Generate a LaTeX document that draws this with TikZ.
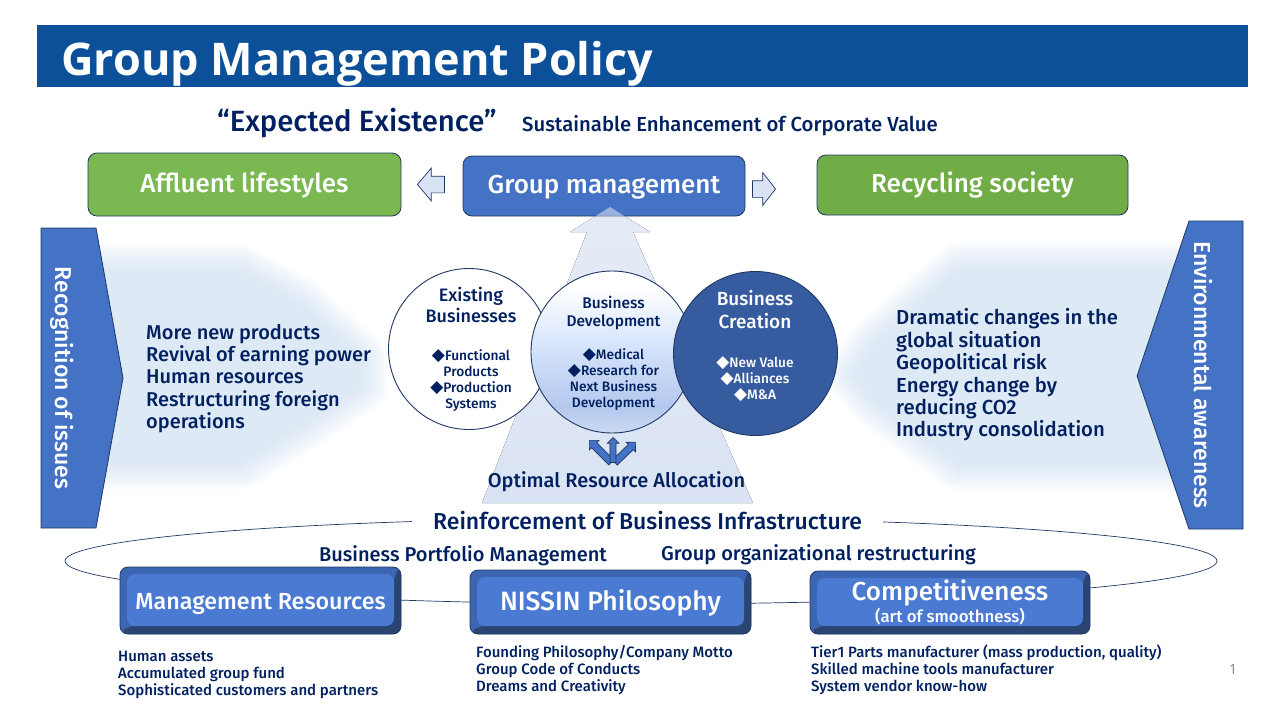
\documentclass[tikz,border=0pt]{standalone}
\usepackage{fontspec}
\setmainfont{Open Sans}
\newfontfamily\medfont{Fira Sans}[UprightFont=* Medium]
\newfontfamily\symfont{DejaVu Sans}
\usetikzlibrary{shapes.arrows}

\definecolor{navy}{HTML}{002060}
\definecolor{titleblue}{HTML}{0B5099}
\definecolor{boxblue}{HTML}{4472C4}
\definecolor{edgeblue}{HTML}{1F3864}
\definecolor{paleblue}{HTML}{DAE3F3}
\definecolor{glowblue}{HTML}{C6DAEF}
\definecolor{leafgreen}{HTML}{7AB852}
\definecolor{mossgreen}{HTML}{70AD47}
\definecolor{deepblue}{HTML}{365C9F}
\definecolor{bevelface}{HTML}{4A7AD2}
\definecolor{bevellight}{HTML}{3D66B2}
\definecolor{beveldark}{HTML}{2B4572}
\definecolor{devfoot}{HTML}{CCDAF3}
\definecolor{devlow}{HTML}{B4C8EE}
\definecolor{devmid}{HTML}{D6E4FB}

\pgfdeclareverticalshading{devshade}{100bp}{
  color(0bp)=(devfoot); color(25bp)=(devfoot); color(33bp)=(devlow);
  color(52bp)=(devmid); color(70bp)=(white); color(100bp)=(white)}

\newcommand{\dmd}{\smash{\fontsize{17}{16}\selectfont\symfont\char"25C6}}
\newcommand{\fs}[2]{\fontsize{#1}{#2}\selectfont\medfont}
\newcommand{\nudge}[2]{\raisebox{-#1pt}[\height][\depth]{#2}}

\tikzset{
  rolebox/.style={draw=edgeblue, rounded corners=9pt, line width=0.8pt, text=white, inner sep=0pt},
  sidearrow/.style={draw=edgeblue, fill=boxblue, line width=0.8pt},
  hollowarrow/.style={single arrow, draw=edgeblue, fill=paleblue, line width=0.7pt, inner xsep=0pt, inner ysep=8pt,
    minimum width=32pt, single arrow head extend=8pt, anchor=tip},
  armarrow/.style={single arrow, draw=edgeblue, fill=boxblue, line width=0.7pt, inner xsep=0pt, inner ysep=3.2pt,
    minimum width=13pt, single arrow head extend=3.2pt, anchor=tip},
  sphere/.style={circle, draw=edgeblue, line width=0.9pt, inner sep=0pt},
  heading/.style={text=navy, align=center, inner sep=0pt},
  itemlist/.style={text=navy, align=left, anchor=west, inner sep=0pt},
  bevelbox/.style={draw=edgeblue, rounded corners=8pt, line width=0.8pt, fill=bevellight, text=white, inner sep=0pt, align=center,
    path picture={
      \fill[beveldark] (path picture bounding box.south west)
        -- ([xshift=7pt,yshift=8pt]path picture bounding box.south west)
        -- ([xshift=-7pt,yshift=8pt]path picture bounding box.south east)
        -- ([xshift=-7pt,yshift=-7pt]path picture bounding box.north east)
        -- (path picture bounding box.north east)
        -- (path picture bounding box.south east) -- cycle;
      \fill[bevelface] ([xshift=7pt,yshift=8pt]path picture bounding box.south west)
        rectangle ([xshift=-7pt,yshift=-7pt]path picture bounding box.north east);
    }},
}

\begin{document}
\begin{tikzpicture}[x=1pt,y=-1pt]
  \useasboundingbox (0,0) rectangle (1280,720);

  % Title
  \node[fill=titleblue, minimum width=1211pt, minimum height=62pt, inner sep=0pt] (titlebar) at (642.5,56) {};
  \node[anchor=west, text=white, inner sep=0pt, font=\fontsize{45}{50}\selectfont\bfseries] (titletext) at (61,64) {Group Management Policy};
  \node[heading, anchor=west, font=\fs{29.3}{34}] (expected) at (217,123.5) {“Expected Existence”};
  \node[heading, anchor=west, font=\fs{20.3}{24}] (sustain) at (522,126) {Sustainable Enhancement of Corporate Value};

  % Big arrow
  \fill[top color=paleblue!70, bottom color=paleblue]
    (610,207) -- (650,232) -- (633,232) -- (753,503) -- (482,503) -- (587,232) -- (570,232) -- cycle;

  % Top row
  \node[rolebox, fill=leafgreen, minimum width=313pt, minimum height=63pt, font=\fs{26}{30}] (affluent) at (244.5,184.5) {Affluent lifestyles};
  \node[rolebox, fill=mossgreen, minimum width=311pt, minimum height=60pt, font=\fs{26}{30}] (recycling) at (972.5,185) {Recycling society};
  \node[rolebox, fill=boxblue, minimum width=282pt, minimum height=60pt, font=\fs{26}{30}] (groupmgmt) at (604,186) {\nudge{1}{Group management}};
  \fill[white, fill opacity=0.45] (610,207) -- (625,216.5) -- (595,216.5) -- cycle;
  \node[hollowarrow, shape border rotate=180, minimum height=27pt, single arrow tip angle=100] (arrowleft) at (417,184.5) {};
  \node[hollowarrow, minimum height=23pt, single arrow tip angle=104] (arrowright) at (776,189) {};

  % Soft glow behind the side texts
  \foreach \w in {56,52,...,0} {
    \begin{scope}[transparency group, opacity=0.06]
      \draw[glowblue, fill=glowblue, line join=round, line width=\w pt]
        (70,272) -- (240,272) -- (300,305) -- (360,360) -- (360,385) -- (300,425) -- (240,462) -- (70,462) -- cycle;
      \draw[glowblue, fill=glowblue, line join=round, line width=\w pt]
        (1215,270) -- (960,270) -- (875,345) -- (855,375) -- (875,400) -- (960,463) -- (1215,463) -- cycle;
    \end{scope}
  }

  % Side arrows
  \draw[sidearrow] (41,228) -- (96,228) -- (123,378) -- (96,528) -- (41,528) -- cycle;
  \draw[sidearrow] (1243,221) -- (1189,221) -- (1137,376) -- (1189,529) -- (1243,529) -- cycle;
  \node[text=white, rotate=-90, inner sep=0pt, font=\fs{23}{26}] (recognition) at (62,378) {Recognition of issues};
  \node[text=white, rotate=-90, inner sep=0pt, font=\fs{23}{26}] (environment) at (1203,375) {Environmental awareness};
  \node[itemlist, font=\fs{20}{22.4}] (issues) at (146,378.5) {More new products\\Revival of earning power\\Human resources\\Restructuring foreign\\operations};
  \node[itemlist, font=\fs{20.3}{22.4}] (awareness) at (896,375) {Dramatic changes in the\\global situation\\Geopolitical risk\\Energy change by\\reducing CO2\\Industry consolidation};

  % Circles
  \node[sphere, fill=white, minimum size=161pt] (existing) at (469,349) {};
  \node[sphere, shading=devshade, minimum size=162pt] (development) at (612,352) {};
  \node[sphere, fill=deepblue, minimum size=164pt] (creation) at (755.5,353.5) {};
  \node[heading, font=\fs{18}{21}] (existingname) at (471,304.5) {Existing\\Businesses};
  \node[heading, font=\fs{13.7}{16}] (existingitems) at (471,380.5) {\dmd Functional\\Products\\\dmd Production\\Systems};
  \node[heading, font=\fs{15.5}{18}] (developmentname) at (613.5,313) {Business\\Development};
  \node[heading, font=\fs{13.7}{16}] (developmentitems) at (613.5,380) {\dmd Medical\\\dmd Research for\\Next Business\\Development};
  \node[heading, text=white, font=\fs{19}{23}] (creationname) at (755,309.5) {Business\\Creation};
  \node[heading, text=white, font=\fs{13.7}{16}] (creationitems) at (755,378) {\dmd New Value\\\dmd Alliances\\\dmd M\&A};

  % Three small arrows
  \node[armarrow, rotate=135, minimum height=31pt] (armleft) at (589,440) {};
  \node[armarrow, rotate=44, minimum height=29pt] (armright) at (636,442) {};
  \node[armarrow, rotate=90, minimum height=25pt, minimum width=11pt, inner ysep=2.7pt, single arrow head extend=2.8pt] (armup) at (613,437) {};
  \node[heading, font=\fs{20}{24}] (optimal) at (616.5,481.5) {Optimal Resource Allocation};

  % Infrastructure
  \draw[edgeblue, line width=0.7pt] (641,561) ellipse [x radius=576, y radius=43];
  \node[heading, fill=white, minimum width=471pt, minimum height=28pt, font=\fs{23}{26}] (reinforcement) at (647.5,521) {Reinforcement of Business Infrastructure};
  \node[heading, font=\fs{20}{24}] (portfolio) at (463,556) {Business Portfolio Management};
  \node[heading, font=\fs{20}{24}] (restructuring) at (818.5,555) {Group organizational restructuring};
  \node[bevelbox, minimum width=281pt, minimum height=67pt, font=\fs{23.3}{26}] (resources) at (260.5,600.5) {\nudge{3}{Management Resources}};
  \node[bevelbox, minimum width=281pt, minimum height=64pt, font=\fs{26.5}{30}] (philosophy) at (610.5,602) {\nudge{1}{NISSIN Philosophy}};
  \node[bevelbox, minimum width=280pt, minimum height=63pt, font=\fs{26}{28}] (competitive) at (950,602.5) {Competitiveness\\[-6pt]{\fs{16.8}{18}(art of smoothness)}};

  % Lists under the boxes
  \node[itemlist, font=\fs{15}{17}] (resourcelist) at (118,675) {Human assets\\Accumulated group fund\\Sophisticated customers and partners};
  \node[itemlist, font=\fs{15}{17}] (philosophylist) at (476,670) {Founding Philosophy/Company Motto\\Group Code of Conducts\\Dreams and Creativity};
  \node[itemlist, font=\fs{15}{17}] (competitivelist) at (811,670) {Tier1 Parts manufacturer (mass production, quality)\\Skilled machine tools manufacturer\\System vendor know-how};
  \node[text=gray, inner sep=0pt, font=\fontsize{14}{16}\selectfont] (pagenum) at (1233,669) {1};
\end{tikzpicture}
\end{document}
